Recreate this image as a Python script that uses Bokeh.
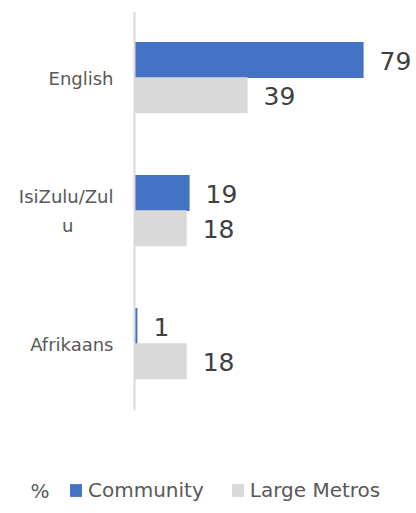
from bokeh.plotting import figure
from bokeh.layouts import column
from bokeh.models import (FactorRange, Range1d, Legend, LegendItem, ColumnDataSource,
                          Label, Span)
from bokeh.transform import dodge
from bokeh.core.properties import value
from bokeh.embed import file_html
from bokeh.resources import INLINE

categories = ["English", "IsiZulu/Zulu", "Afrikaans"]
tick_labels = ["English", "IsiZulu/Zul\nu" + "\u00a0" * 7, "Afrikaans"]
community = [79, 19, 1]
large_metros = [39, 18, 18]
series = ["Community", "Large Metros"]
unit_label = "%"

BLUE = "#4472C4"
GREY = "#D9D9D9"
FONT = "DejaVu Sans"
TEXT = "#595959"
NaN = float("nan")

# layout: value axis origin sits 134 px from the left edge, 2.9 px per percent
AXIS_X = 134
PX = 2.9
W = 416

src = ColumnDataSource(dict(
    cat=categories,
    tick=tick_labels,
    zero=[0] * len(categories),
    community=community,
    large=large_metros,
    community_txt=[str(v) for v in community],
    large_txt=[str(v) for v in large_metros],
))

p = figure(width=W, height=420,
           y_range=FactorRange(factors=categories[::-1], range_padding=0),
           x_range=Range1d(-AXIS_X / PX, (W - AXIS_X) / PX),
           output_backend="svg", toolbar_location=None,
           min_border_left=0, min_border_right=0,
           min_border_top=11, min_border_bottom=10)

r1 = p.hbar(y=dodge("cat", 0.135, range=p.y_range), left=0, right="community",
            height=0.27, fill_color=BLUE, line_color=None, source=src)
r2 = p.hbar(y=dodge("cat", -0.13, range=p.y_range), left=0, right="large",
            height=0.27, fill_color=GREY, line_color=None, source=src)

p.text(x="community", y=dodge("cat", 0.135, range=p.y_range), text="community_txt",
       x_offset=16, y_offset=1, text_baseline="middle", text_align="left",
       text_font=value(FONT), text_font_size="25px", text_color="#404040", source=src)
p.text(x="large", y=dodge("cat", -0.13, range=p.y_range), text="large_txt",
       x_offset=16, y_offset=1, text_baseline="middle", text_align="left",
       text_font=value(FONT), text_font_size="25px", text_color="#404040", source=src)

# category axis: line at the value origin, labels to its left
p.add_layout(Span(location=0, dimension="height", line_color="#D9D9D9", line_width=2))
p.text(x="zero", y="cat", text="tick", x_offset=-21, text_align="right",
       text_baseline="middle", text_line_height=1.4,
       text_font=value(FONT), text_font_size="18px", text_color=TEXT, source=src)

p.axis.visible = False
p.xgrid.visible = False
p.ygrid.visible = False
p.outline_line_color = None

# legend strip below the chart (keys share the bars' styles, no drawn data)
lg = figure(width=W, height=93, x_range=Range1d(0, 1), y_range=Range1d(0, 1),
            output_backend="svg", toolbar_location=None,
            min_border_left=0, min_border_right=0, min_border_top=0, min_border_bottom=0)
lg.axis.visible = False
lg.grid.visible = False
lg.outline_line_color = None
k1 = lg.hbar(y=[NaN], right=[NaN], height=0.1, fill_color=BLUE, line_color=None)
k2 = lg.hbar(y=[NaN], right=[NaN], height=0.1, fill_color=GREY, line_color=None)

lg.add_layout(Label(x=30, y=23, x_units="screen", y_units="screen", text=unit_label,
                    text_font=FONT, text_font_size="20px", text_color=TEXT,
                    text_baseline="middle", text_align="left"))

legend = Legend(items=[LegendItem(label=series[0], renderers=[k1]),
                       LegendItem(label=series[1], renderers=[k2])],
                orientation="horizontal", location=(68, 11),
                label_text_font=FONT, label_text_font_size="20px",
                label_text_color=TEXT, label_standoff=5,
                glyph_width=15, glyph_height=16, spacing=26, padding=0, margin=0,
                border_line_color=None, background_fill_alpha=0)
lg.add_layout(legend)

layout = column(p, lg, spacing=0)
open("out.html", "w").write(file_html(layout, INLINE))
